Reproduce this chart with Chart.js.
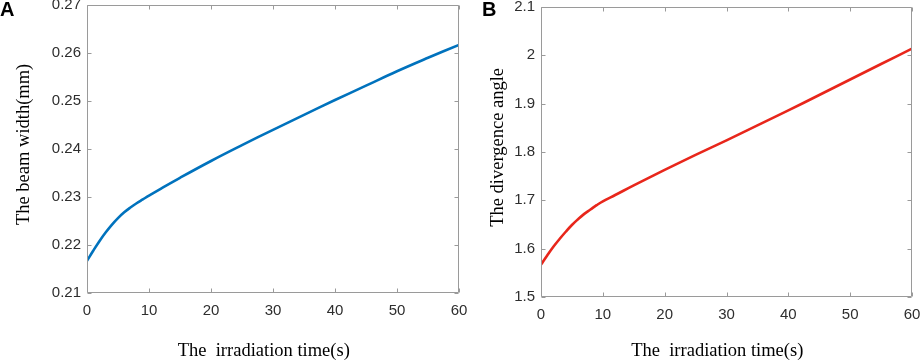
<!DOCTYPE html>
<html>
<head>
<meta charset="utf-8">
<script src="https://cdn.jsdelivr.net/npm/chart.js@4/dist/chart.umd.min.js"></script>
<style>
  html, body { margin: 0; padding: 0; background: #fff; }
  #wrap { position: relative; width: 920px; height: 361px; overflow: hidden; background: #fff; }
  canvas { position: absolute; top: 0; }
  #cA { left: 0; }
  #cB { left: 460px; }
</style>
</head>
<body>
<div id="wrap">
  <canvas id="cA" width="480" height="361"></canvas>
  <canvas id="cB" width="460" height="361"></canvas>
</div>
<script>
// ---- data ----
const timeS = [0, 1, 2, 3, 4, 5, 6, 7, 8, 9, 10, 12, 15, 20, 25, 30, 35, 40, 45, 50, 55, 60];
const beamWidth = [0.2167, 0.2188, 0.2208, 0.2226, 0.2242, 0.2256, 0.2268, 0.2278, 0.2287, 0.2295, 0.2303,
                   0.2318, 0.2340, 0.2375, 0.2408, 0.2440, 0.2471, 0.2502, 0.2532, 0.2562, 0.2590, 0.2617];
const divergenceAngle = [1.567, 1.586, 1.604, 1.620, 1.635, 1.649, 1.661, 1.672, 1.681, 1.690, 1.698,
                         1.711, 1.731, 1.763, 1.794, 1.824, 1.855, 1.886, 1.918, 1.950, 1.982, 2.014];
const xTicks = [0, 10, 20, 30, 40, 50, 60];
const yTicksA = [0.21, 0.22, 0.23, 0.24, 0.25, 0.26, 0.27];
const yTicksB = [1.5, 1.6, 1.7, 1.8, 1.9, 2.0, 2.1];
const xTitle = 'The  irradiation time(s)';
const yTitleA = 'The beam width(mm)';
const yTitleB = 'The divergence angle';

const AXIS_COLOR = '#9a9a9a';
const TEXT_COLOR = '#2e2e2e';

// inward ticks + full box, MATLAB style
const boxTicks = {
  id: 'boxTicks',
  afterDraw(chart, args, opts) {
    const { ctx, chartArea: a, scales: { x, y } } = chart;
    const L = 4;
    ctx.save();
    ctx.strokeStyle = AXIS_COLOR;
    ctx.lineWidth = 1;
    ctx.beginPath();
    const l = Math.round(a.left) + 0.5, r = Math.round(a.right) - 0.5;
    const t = Math.round(a.top) + 0.5, b = Math.round(a.bottom) - 0.5;
    ctx.rect(l, t, r - l, b - t);
    x.ticks.forEach(tk => {
      const px = Math.round(x.getPixelForValue(tk.value)) + 0.5;
      ctx.moveTo(px, b); ctx.lineTo(px, b - L);
      ctx.moveTo(px, t); ctx.lineTo(px, t + L);
    });
    y.ticks.forEach(tk => {
      const py = Math.round(y.getPixelForValue(tk.value)) + 0.5;
      ctx.moveTo(l, py); ctx.lineTo(l + L, py);
      ctx.moveTo(r, py); ctx.lineTo(r - L, py);
    });
    ctx.stroke();
    // panel letter
    ctx.fillStyle = '#000';
    ctx.font = 'bold 20px "Liberation Sans", Arial, sans-serif';
    ctx.textBaseline = 'alphabetic';
    ctx.textAlign = 'left';
    ctx.fillText(opts.letter, opts.letterX, 16);
    ctx.restore();
  }
};

function makeChart(id, values, color, yTicks, yTitle, geom) {
  return new Chart(document.getElementById(id), {
    type: 'line',
    data: {
      datasets: [{
        data: timeS.map((t, i) => ({ x: t, y: values[i] })),
        borderColor: color,
        borderWidth: 2.6,
        pointRadius: 0,
        fill: false,
        tension: 0.4
      }]
    },
    options: {
      responsive: false,
      devicePixelRatio: 1,
      animation: false,
      layout: { padding: { left: 0, right: geom.padRight, top: geom.padTop, bottom: 0 } },
      plugins: {
        legend: { display: false },
        tooltip: { enabled: false },
        boxTicks: { letter: geom.letter, letterX: geom.letterX }
      },
      scales: {
        x: {
          type: 'linear',
          min: 0, max: 60,
          afterBuildTicks: s => { s.ticks = xTicks.map(v => ({ value: v })); },
          afterFit: s => { s.height = geom.xHeight; s.paddingLeft = 0; s.paddingRight = 0; },
          grid: { display: false, drawTicks: false },
          border: { display: false },
          ticks: {
            padding: 9,
            color: TEXT_COLOR,
            font: { family: '"Liberation Sans", Arial, sans-serif', size: 15 },
            maxRotation: 0,
            callback: v => String(v)
          },
          title: {
            display: true,
            text: xTitle + '    ',
            color: '#000',
            font: { family: '"Liberation Serif", "Times New Roman", serif', size: 18.5, lineHeight: 1.1 },
            padding: { top: 0, bottom: 0 }
          }
        },
        y: {
          type: 'linear',
          min: yTicks[0], max: yTicks[yTicks.length - 1],
          afterBuildTicks: s => { s.ticks = yTicks.map(v => ({ value: v })); },
          afterFit: s => { s.width = geom.yWidth; s.paddingTop = 0; s.paddingBottom = 0; },
          grid: { display: false, drawTicks: false },
          border: { display: false },
          ticks: {
            padding: 6,
            color: TEXT_COLOR,
            font: { family: '"Liberation Sans", Arial, sans-serif', size: 15 },
            callback: v => String(Number(v.toFixed(2)))
          },
          title: {
            display: true,
            text: '  ' + yTitle,
            color: '#000',
            font: { family: '"Liberation Serif", "Times New Roman", serif', size: 18.5, lineHeight: 1.1 },
            padding: { top: geom.yTitlePad, bottom: 0 }
          }
        }
      }
    },
    plugins: [boxTicks]
  });
}

makeChart('cA', beamWidth, '#0072BD', yTicksA, yTitleA,
  { padRight: 21, padTop: 5, xHeight: 68, yWidth: 87, yTitlePad: 14, letter: 'A', letterX: 0 });
makeChart('cB', divergenceAngle, '#E8261B', yTicksB, yTitleB,
  { padRight: 8, padTop: 7, xHeight: 64, yWidth: 81, yTitlePad: 28, letter: 'B', letterX: 22 });
</script>
</body>
</html>
